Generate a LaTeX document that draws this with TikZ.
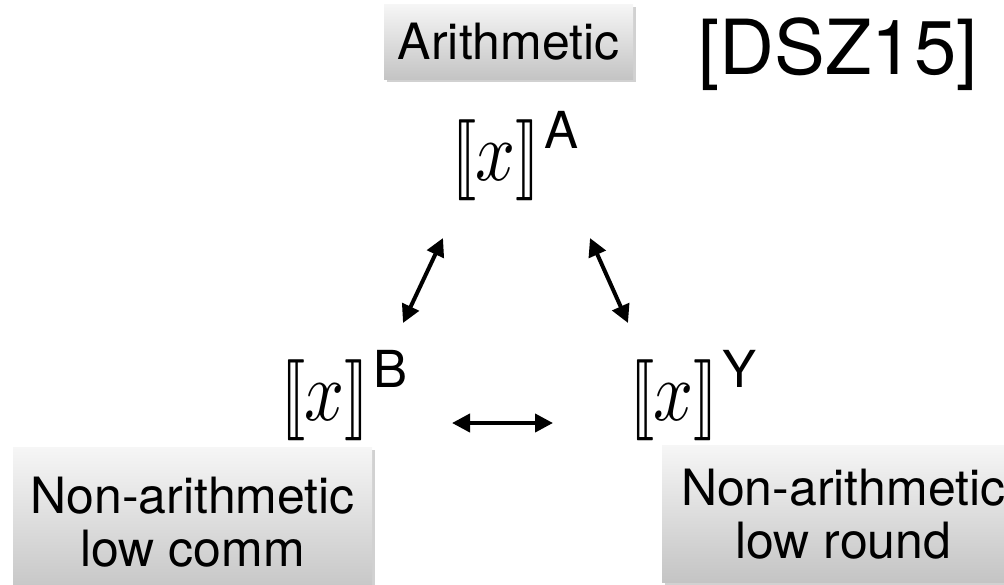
\documentclass[tikz,border=0pt]{standalone}
\usepackage{fontspec}
\setmainfont{TeX Gyre Heros}
\usepackage{stmaryrd}
\usetikzlibrary{arrows.meta,shadows}
\definecolor{boxtop}{HTML}{F6F6F6}
\definecolor{boxbot}{HTML}{C4C4C4}
\newcommand{\bigx}{\scalebox{6}[8.1]{$\llbracket$}\kern-1pt\scalebox{7}[8.5]{$x$}\kern0pt\scalebox{6}[8.1]{$\rrbracket$}}
\begin{document}
\begin{tikzpicture}[x=1pt,y=-1pt,
  gbox/.style={rectangle, top color=boxtop, bottom color=boxbot, draw=none,
    drop shadow={shadow xshift=2.5pt, shadow yshift=-2.5pt, fill=black!40, opacity=0.45},
    align=center, inner sep=0pt},
  boxtext/.style={font=\fontsize{50}{53}\selectfont},
  mathnode/.style={inner sep=0pt, anchor=base west},
  supfont/.style={font=\fontsize{51}{54}\selectfont},
  bigarrow/.style={line width=4pt, {Triangle[length=18pt,width=18pt]}-{Triangle[length=18pt,width=18pt]}}]
\useasboundingbox (0,0) rectangle (1004,584);

% boxes
\node[gbox, boxtext, minimum width=249, minimum height=75, anchor=north west] (arith) at (384,4) {Arithmetic};
\node[gbox, boxtext, minimum width=359, minimum height=150, anchor=north west] (lcomm) at (13,447) {Non-arithmetic\\low comm};
\node[gbox, boxtext, minimum width=362, minimum height=137, anchor=north west] (lround) at (662,445) {Non-arithmetic\\low round};

% citation
\node[inner sep=0pt, anchor=base, font=\fontsize{76}{80}\selectfont] (cite) at (838,74) {[DSZ15]};

% math nodes
\node[mathnode] (nA) at (452,180) {\bigx};
\node[mathnode, supfont] (sA) at ([xshift=5pt]nA.base east) [yshift=32pt] {A};
\node[mathnode] (nB) at (281,420) {\bigx};
\node[mathnode, supfont] (sB) at ([xshift=5pt]nB.base east) [yshift=33pt] {B};
\node[mathnode] (nY) at (630,420) {\bigx};
\node[mathnode, supfont] (sY) at ([xshift=5pt]nY.base east) [yshift=33pt] {Y};

% arrow end points
\coordinate (abL) at (443,238);
\coordinate (baL) at (403,323);
\coordinate (ayR) at (590,238);
\coordinate (yaR) at (628,323);
\coordinate (byL) at (452,423);
\coordinate (ybR) at (553,423);

\draw[bigarrow] (abL) -- (baL);
\draw[bigarrow] (ayR) -- (yaR);
\draw[bigarrow] (byL) -- (ybR);
\end{tikzpicture}
\end{document}
